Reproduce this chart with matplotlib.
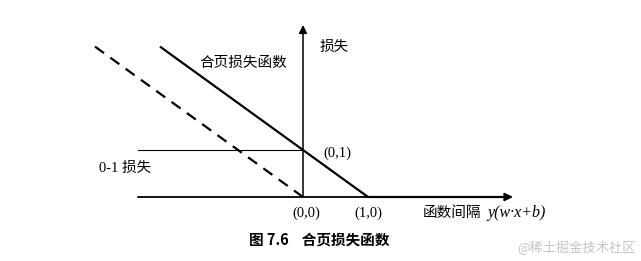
import numpy as np
import matplotlib
matplotlib.use("Agg")
import matplotlib.pyplot as plt

plt.rcParams['font.family'] = ['Liberation Serif', 'Noto Sans CJK SC', 'DejaVu Sans']

# curves (functional margin vs loss)
hinge_x = [-2.2, 1.0, 3.2]
hinge_y = [3.2, 0.0, 0.0]
perceptron_x = [-3.2, 0.0]
perceptron_y = [3.2, 0.0]
zero_one_x = [-2.54, 0.0]
zero_one_y = [1.0, 1.0]

x_axis = (-2.54, 3.23)
y_axis = (0.0, 3.66)

point_labels = ["(0,1)", "(0,0)", "(1,0)"]

fig = plt.figure(figsize=(6.41, 2.61), dpi=100)
ax = fig.add_axes([0, 0, 1, 1])
# 1 unit x = 65 px, 1 unit y = 47 px, origin at pixel (303, 197)
ax.set_xlim(-303 / 65, (641 - 303) / 65)
ax.set_ylim(-64 / 47, 197 / 47)
ax.axis('off')

# axes with arrows
ax.annotate("", xy=(x_axis[1], 0), xytext=(x_axis[0], 0),
            arrowprops=dict(arrowstyle="-|>", color="black", lw=1.3,
                            mutation_scale=12, shrinkA=0, shrinkB=0))
ax.annotate("", xy=(0, y_axis[1]), xytext=(0, y_axis[0]),
            arrowprops=dict(arrowstyle="-|>", color="black", lw=1.1,
                            mutation_scale=12, shrinkA=0, shrinkB=0))

ax.plot(hinge_x, hinge_y, color="black", lw=1.6, solid_capstyle="butt")
ax.plot(perceptron_x, perceptron_y, color="black", lw=1.6, linestyle=(0, (5, 3.5)))
ax.plot(zero_one_x, zero_one_y, color="black", lw=0.8)

ax.text(-0.923, 2.85, "合页损失函数", fontsize=10.5, ha="center", va="center",
        family=['Noto Sans CJK SC'])
ax.text(0.26, 3.19, "损失", fontsize=10.5, ha="left", va="center",
        family=['Noto Sans CJK SC'])
ax.text(-3.14, 0.62, "0-1 损失", fontsize=10.5, ha="left", va="center")

ax.text(0.31, 0.94, point_labels[0], fontsize=10.5, ha="left", va="center")
ax.text(0.046, -0.34, point_labels[1], fontsize=10.5, ha="center", va="center")
ax.text(1.0, -0.34, point_labels[2], fontsize=10.5, ha="center", va="center")

ax.text(1.846, -0.34, "函数间隔", fontsize=10.5, ha="left", va="center",
        family=['Noto Sans CJK SC'])
ax.text(2.83, -0.34, "y(w·x+b)", fontsize=11.5, ha="left", va="center",
        family=['Liberation Serif'], style="italic")

ax.text(0.254, -0.915, "图 7.6    合页损失函数", fontsize=10.5, ha="center", va="center",
        fontweight="bold", family=['Noto Sans CJK SC'])

ax.text(3.30, -1.09, "@稀土掘金技术社区", fontsize=9.5, ha="left", va="center",
        color="#c4c4c4", family=['Noto Sans CJK SC'])

fig.savefig("out.png", dpi=100)
